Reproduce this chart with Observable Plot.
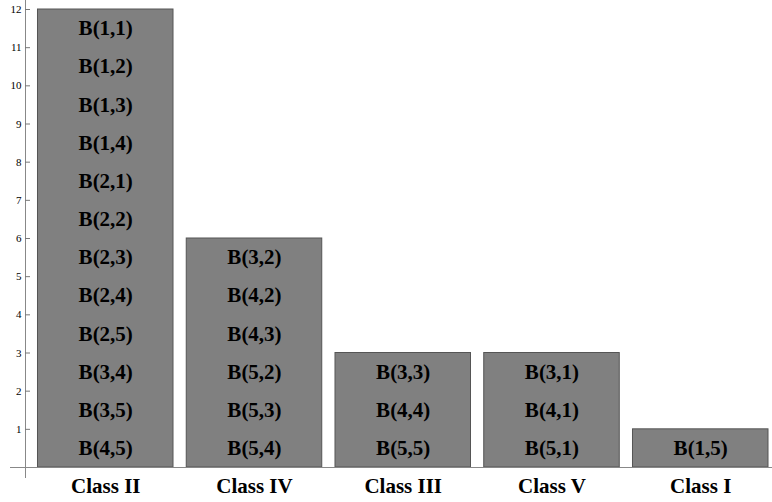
<!DOCTYPE html>
<html>
<head>
<meta charset="utf-8">
<script src="https://cdn.jsdelivr.net/npm/d3@7"></script>
<script src="https://cdn.jsdelivr.net/npm/@observablehq/plot@0.6"></script>
<style>
  html, body { margin: 0; padding: 0; background: #fff; }
  svg text { font-family: "Liberation Serif", "Times New Roman", serif; }
</style>
</head>
<body>
<div id="chart"></div>
<script>
// Categories, left to right
const classes = ["Class II", "Class IV", "Class III", "Class V", "Class I"];
// Cell labels per class, listed top to bottom
const classII  = ["B(1,1)", "B(1,2)", "B(1,3)", "B(1,4)", "B(2,1)", "B(2,2)", "B(2,3)", "B(2,4)", "B(2,5)", "B(3,4)", "B(3,5)", "B(4,5)"];
const classIV  = ["B(3,2)", "B(4,2)", "B(4,3)", "B(5,2)", "B(5,3)", "B(5,4)"];
const classIII = ["B(3,3)", "B(4,4)", "B(5,5)"];
const classV   = ["B(3,1)", "B(4,1)", "B(5,1)"];
const classI   = ["B(1,5)"];
const yTicks = [1, 2, 3, 4, 5, 6, 7, 8, 9, 10, 11, 12];

const members = [classII, classIV, classIII, classV, classI];
const bars = classes.map((c, i) => ({cls: c, count: members[i].length}));
const cells = [];
classes.forEach((c, i) => {
  const list = members[i];
  list.forEach((label, j) => {
    cells.push({cls: c, label, pos: list.length - 1 - j});
  });
});

const serif = "Liberation Serif, Times New Roman, serif";

const chart = Plot.plot({
  width: 772,
  height: 502,
  marginLeft: 25,
  marginRight: 4,
  marginTop: 0,
  marginBottom: 25,
  style: {fontFamily: serif, background: "#fff"},
  x: {domain: classes, paddingInner: 0.089, paddingOuter: 0.042, align: 1, round: false, label: null},
  y: {domain: [-0.262, 12.236], label: null},
  marks: [
    Plot.barY(bars, {x: "cls", y: "count", fill: "#808080", stroke: "#555", strokeWidth: 1}),
    Plot.text(cells, {x: "cls", y: d => d.pos + 0.5, text: "label", fontFamily: serif, fontWeight: "bold", fontSize: 21, fill: "#000"}),
    Plot.ruleY([0], {stroke: "#888", insetLeft: -15, insetRight: -4}),
    Plot.frame({anchor: "left", stroke: "#888"}),
    Plot.axisY({ticks: yTicks, tickSize: 5, insetLeft: 5, tickPadding: 4, fontSize: 11, fontFamily: serif, color: "#000", stroke: "#777", tickFormat: d => String(d), label: null}),
    Plot.axisX({tickSize: 0, tickPadding: 0, dy: 1, fontSize: 21, fontFamily: serif, fontWeight: "bold", color: "#000", label: null})
  ]
});
document.getElementById("chart").appendChild(chart);
</script>
</body>
</html>
